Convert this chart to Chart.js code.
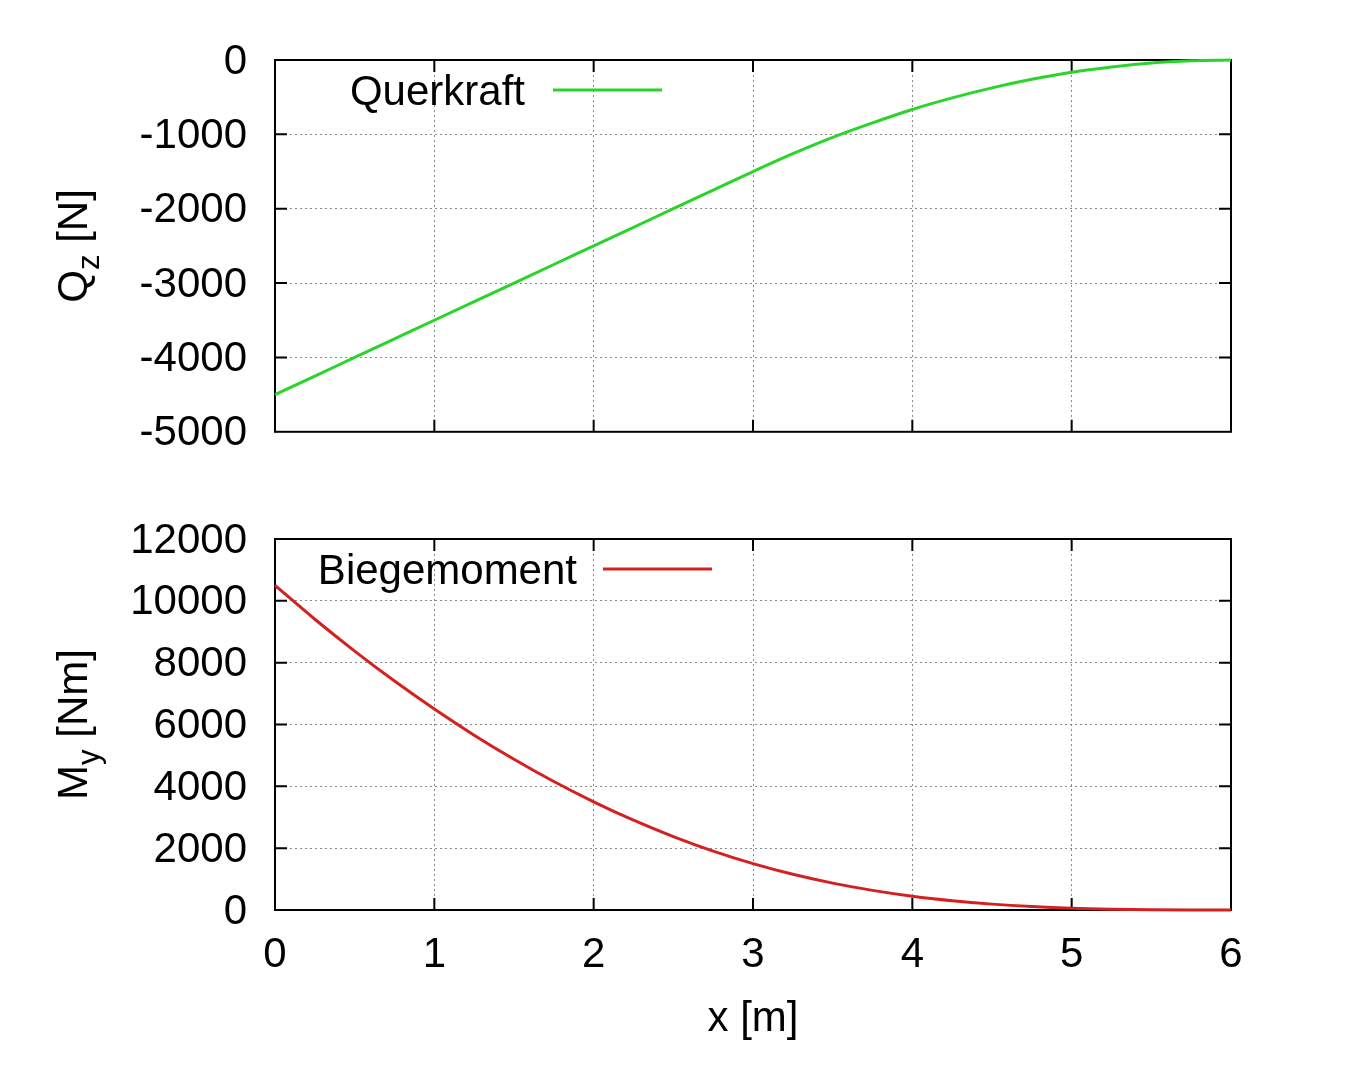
<!DOCTYPE html>
<html><head><meta charset="utf-8">
<script src="https://cdn.jsdelivr.net/npm/chart.js@4"></script>
<style>
html,body{margin:0;padding:0;background:#fff;}
#c1{position:absolute;left:0;top:0;}
#c2{position:absolute;left:0;top:480px;}
</style>
</head><body>
<canvas id="c1" width="1345" height="485"></canvas>
<canvas id="c2" width="1345" height="606"></canvas>
<script>
// ---- data ----
const xValues = [0,0.25,0.5,0.75,1,1.25,1.5,1.75,2,2.25,2.5,2.75,3,3.25,3.5,3.75,4,4.25,4.5,4.75,5,5.25,5.5,5.75,6];
const querkraft = [-4500,-4250,-4000,-3750,-3500,-3250,-3000,-2750,-2500,-2250,-2000,-1750,-1500,-1260,-1040,-845,-665,-510,-375,-260,-165,-95,-40,-10,0];
const biegemoment = [10500,9405,8375,7405,6500,5655,4875,4155,3500,2905,2375,1905,1500,1155,870,635,445,300,190,110,55,25,8,1,0];
const xTicks = [0,1,2,3,4,5,6];
const qTicks = [-5000,-4000,-3000,-2000,-1000,0];
const mTicks = [0,2000,4000,6000,8000,10000,12000];
const xTitle = 'x [m]';

const FONT = '"Liberation Sans", Arial, Helvetica, sans-serif';
const FS = 42;
Chart.defaults.font.family = FONT;
Chart.defaults.color = '#000';

const framePlugin = {
  id: 'frame',
  beforeDatasetsDraw(chart, args, opts) {
    const {ctx, chartArea: a, scales} = chart;
    ctx.save();
    ctx.strokeStyle = '#000';
    ctx.lineWidth = 2;
    ctx.beginPath();
    const tl = 12;
    scales.x.ticks.forEach(t => {
      if (t.value <= scales.x.min || t.value >= scales.x.max) return;
      const px = scales.x.getPixelForValue(t.value);
      ctx.moveTo(px, a.bottom); ctx.lineTo(px, a.bottom - tl);
      ctx.moveTo(px, a.top); ctx.lineTo(px, a.top + tl);
    });
    scales.y.ticks.forEach(t => {
      if (t.value <= scales.y.min || t.value >= scales.y.max) return;
      const py = scales.y.getPixelForValue(t.value);
      ctx.moveTo(a.left, py); ctx.lineTo(a.left + tl, py);
      ctx.moveTo(a.right, py); ctx.lineTo(a.right - tl, py);
    });
    ctx.stroke();
    ctx.strokeRect(a.left, a.top, a.right - a.left, a.bottom - a.top);
    ctx.restore();
  },
  afterDraw(chart, args, opts) {
    const {ctx, chartArea: a} = chart;
    ctx.save();
    // legend
    ctx.font = FS + 'px ' + FONT;
    ctx.fillStyle = '#000';
    ctx.textAlign = 'right';
    ctx.textBaseline = 'middle';
    const ly = a.top + 30;
    ctx.fillText(opts.legendText, a.left + opts.legendTextRight, ly + 3);
    ctx.strokeStyle = opts.legendColor;
    ctx.lineWidth = 3;
    ctx.beginPath();
    ctx.moveTo(a.left + opts.legendLine[0], ly);
    ctx.lineTo(a.left + opts.legendLine[1], ly);
    ctx.stroke();
    // y title with subscript
    const cy = (a.top + a.bottom) / 2;
    ctx.translate(87, cy);
    ctx.rotate(-Math.PI / 2);
    ctx.textAlign = 'left';
    ctx.textBaseline = 'alphabetic';
    const big = FS + 'px ' + FONT, small = '31px ' + FONT;
    ctx.font = big; const w1 = ctx.measureText(opts.yMain).width;
    const w3 = ctx.measureText(opts.yRest).width;
    ctx.font = small; const w2 = ctx.measureText(opts.ySub).width;
    let x0 = -(w1 + w2 + w3) / 2;
    ctx.font = big; ctx.fillText(opts.yMain, x0, 0);
    ctx.font = small; ctx.fillText(opts.ySub, x0 + w1, 12);
    ctx.font = big; ctx.fillText(opts.yRest, x0 + w1 + w2, 0);
    ctx.restore();
    if (opts.xTitle) {
      ctx.save();
      ctx.font = FS + 'px ' + FONT;
      ctx.fillStyle = '#000';
      ctx.textAlign = 'center';
      ctx.textBaseline = 'middle';
      ctx.fillText(opts.xTitle, (a.left + a.right) / 2, a.bottom + 109);
      ctx.restore();
    }
  }
};

function makeChart(id, values, color, yTicks, yMin, yMax, padTop, xHeight, showXLabels, frameOpts) {
  return new Chart(document.getElementById(id), {
    type: 'line',
    data: {
      datasets: [{
        data: xValues.map((x, i) => ({x: x, y: values[i]})),
        borderColor: color,
        borderWidth: 3,
        pointRadius: 0,
        cubicInterpolationMode: 'monotone',
        fill: false,
        clip: 6
      }]
    },
    options: {
      responsive: false,
      animation: false,
      events: [],
      layout: {padding: {top: padTop, right: 114, left: 0, bottom: 0}},
      plugins: {legend: {display: false}, tooltip: {enabled: false}, frame: frameOpts},
      scales: {
        x: {
          type: 'linear', min: 0, max: 6,
          afterBuildTicks: s => { s.ticks = xTicks.map(v => ({value: v})); },
          afterFit: s => { s.height = xHeight; },
          grid: {color: '#8a8a8a', lineWidth: 1, drawTicks: false},
          border: {display: false, dash: [2, 3]},
          ticks: {display: showXLabels, font: {size: FS}, padding: 20, color: '#000', maxRotation: 0}
        },
        y: {
          type: 'linear', min: yMin, max: yMax,
          afterBuildTicks: s => { s.ticks = yTicks.map(v => ({value: v})); },
          afterFit: s => { s.width = 275; },
          grid: {color: '#8a8a8a', lineWidth: 1, drawTicks: false},
          border: {display: false, dash: [2, 3]},
          ticks: {font: {size: FS}, padding: 28, labelOffset: 2, color: '#000', callback: v => String(v)}
        }
      }
    },
    plugins: [framePlugin]
  });
}

makeChart('c1', querkraft, '#2ad42a', qTicks, -5000, 0, 60, 40, false,
  {legendText: 'Querkraft', legendTextRight: 250, legendLine: [278, 387], legendColor: '#2ad42a',
   yMain: 'Q', ySub: 'z', yRest: ' [N]', xTitle: null});
makeChart('c2', biegemoment, '#d42020', mTicks, 0, 12000, 59, 176, true,
  {legendText: 'Biegemoment', legendTextRight: 302, legendLine: [328, 437], legendColor: '#d42020',
   yMain: 'M', ySub: 'y', yRest: ' [Nm]', xTitle: xTitle});
</script>
</body></html>
